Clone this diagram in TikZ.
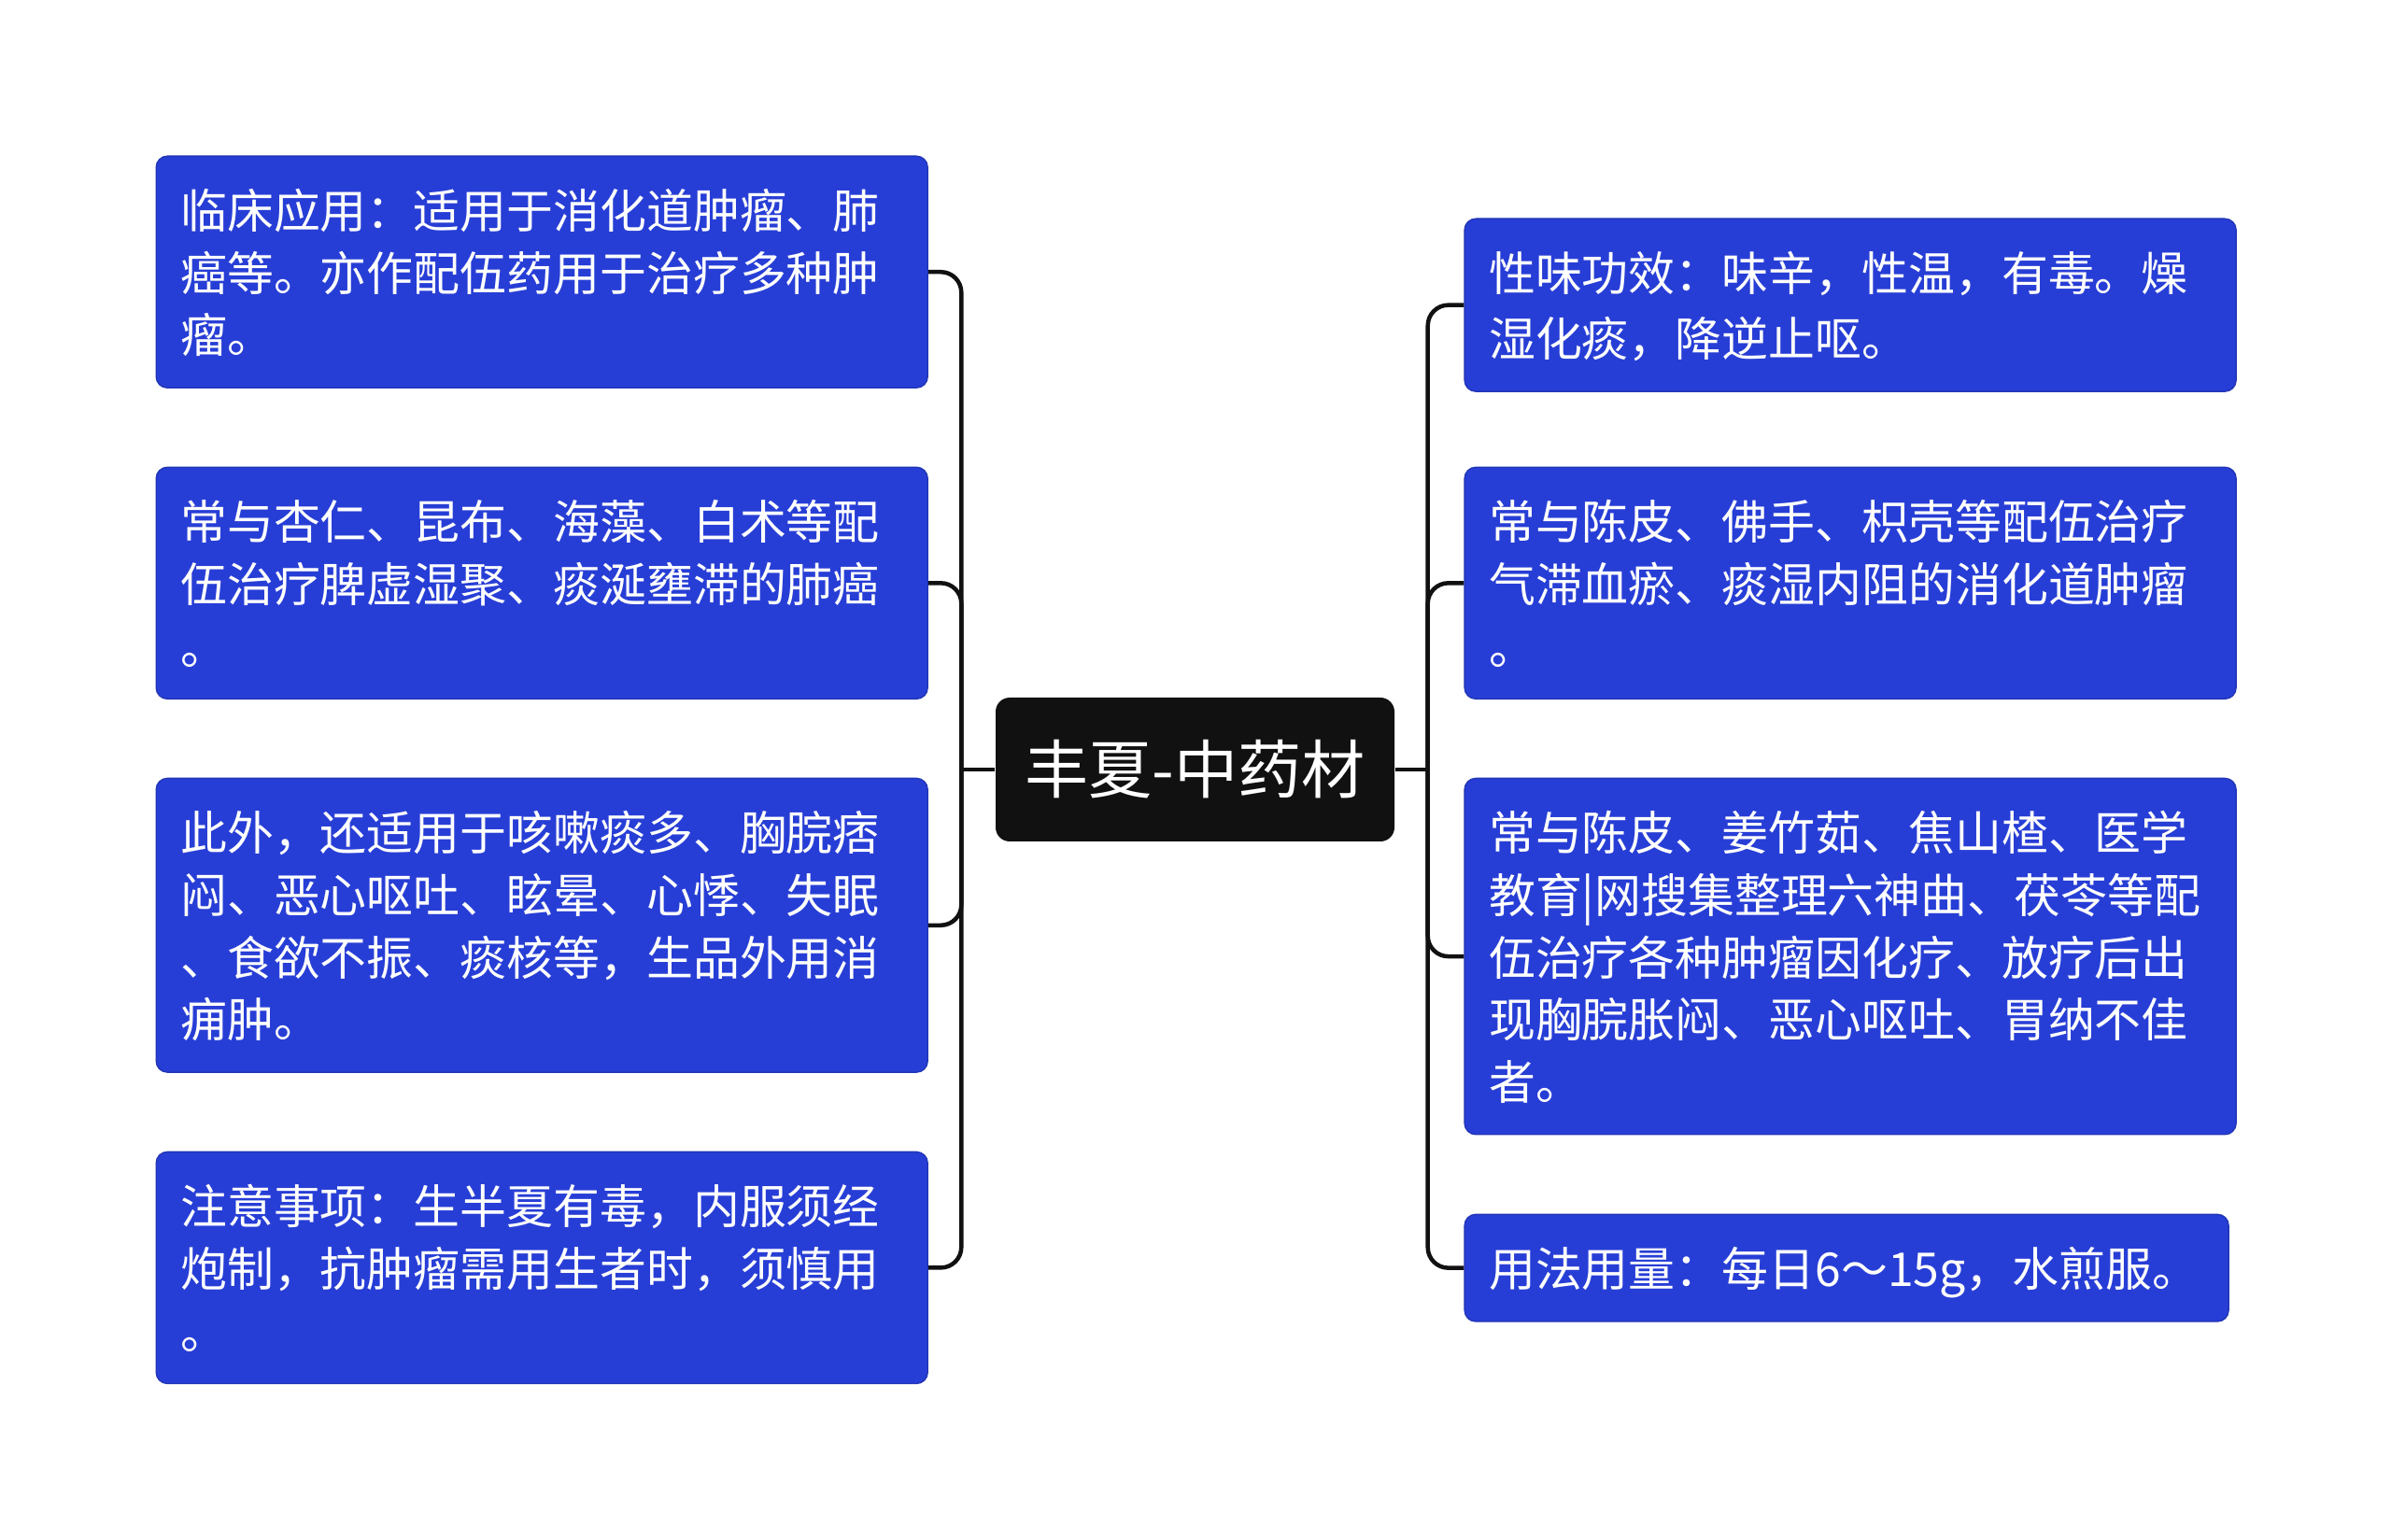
\documentclass[tikz,border=0pt]{standalone}
\usepackage{fontspec}
\setmainfont{Noto Sans CJK SC}
\usetikzlibrary{positioning,calc}
\definecolor{topicblue}{RGB}{39,62,214}
\definecolor{rootblack}{RGB}{17,17,17}
\newcommand{\boxstrut}{\rule[-0.133cm]{0pt}{0.667cm}}

\begin{document}
\begin{tikzpicture}[
    topic/.style={rectangle,rounded corners=0.12cm,fill=topicblue,draw=topicblue!85!black,line width=0.4pt,
      text=white,text width=7.74cm,align=left,inner xsep=0.26cm,inner ysep=0.24cm,anchor=north west,
      font=\fontsize{14.2pt}{18.97pt}\selectfont,
      execute at begin node=\boxstrut,execute at end node=\boxstrut},
    root/.style={rectangle,rounded corners=0.15cm,fill=rootblack,text=white,inner sep=0pt,
      minimum width=4.27cm,minimum height=1.54cm,font=\fontsize{19.4pt}{22pt}\selectfont},
    link/.style={line width=0.045cm,draw=rootblack,rounded corners=0.22cm}]

\useasboundingbox[fill=white] (0,0) rectangle (25.6,-16.49);

% Central topic
\node[root] (root) at (12.795,-8.24) {丰夏-中药材};

% Left branches
\node[topic] (use) at (1.665,-1.665) {临床应用：适用于消化道肿瘤、肺\\癌等。亦作配伍药用于治疗多种肿\\瘤。};
\node[topic] (pair) at (1.665,-4.996) {常与杏仁、昆布、海藻、白术等配\\伍治疗脾虚湿聚、痰涎壅滞的肺癌\\。};
\node[topic] (other) at (1.665,-8.327) {此外，还适用于咳嗽痰多、胸脘痞\\闷、恶心呕吐、眩晕、心悸、失眠\\、食欲不振、痰核等，生品外用消\\痈肿。};
\node[topic] (note) at (1.665,-12.327) {注意事项：生半夏有毒，内服须经\\炮制，抗肿瘤需用生者时，须慎用\\。};

% Right branches
\node[topic] (prop) at (15.674,-2.335) {性味功效：味辛，性温，有毒。燥\\湿化痰，降逆止呕。};
\node[topic] (qi) at (15.674,-4.996) {常与陈皮、佛手、枳壳等配伍治疗\\气滞血瘀、痰湿内阻的消化道肿瘤\\。};
\node[topic] (chemo) at (15.674,-8.327) {常与陈皮、姜竹茹、焦山楂、医学\\教育|网搜集整理六神曲、茯苓等配\\伍治疗各种肿瘤因化疗、放疗后出\\现胸脘胀闷、恶心呕吐、胃纳不佳\\者。};
\node[topic,text width=7.66cm] (dose) at (15.674,-12.996) {用法用量：每日6～15g，水煎服。};

% Connectors
\coordinate (lt) at ($(root.west)+(-0.36,0)$);
\coordinate (rt) at ($(root.east)+(0.35,0)$);
\draw[link] (root.west) -- (lt);
\draw[link] (root.east) -- (rt);
\foreach \n in {use,pair,other,note}
  \draw[link] (lt) |- (\n.east);
\foreach \n in {prop,qi,chemo,dose}
  \draw[link] (rt) |- (\n.west);

\end{tikzpicture}
\end{document}
